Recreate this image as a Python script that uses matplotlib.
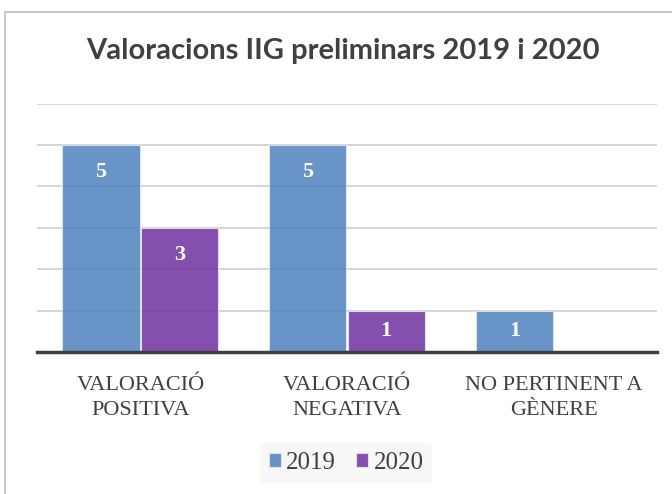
import numpy as np
import matplotlib.pyplot as plt
from matplotlib.patches import Rectangle

categories = ['VALORACIÓ\nPOSITIVA', 'VALORACIÓ\nNEGATIVA', 'NO PERTINENT A\nGÈNERE']
series_names = ['2019', '2020']
vals_2019 = [5, 5, 1]
vals_2020 = [3, 1, 0]

colors = ['#4F81BD', '#7030A0']

fig = plt.figure(figsize=(6.72, 4.94), dpi=100)
# chart border (left / top visible, right / bottom cut off)
fig.patches.append(Rectangle((5 / 672, -0.1), 1.2, 1 - 12 / 494 + 0.1, transform=fig.transFigure,
                             fill=False, edgecolor='#bfbfbf', linewidth=1.2))

ax = fig.add_axes([37 / 672, 1 - 352 / 494, 620 / 672, (352 - 103.6) / 494])
x = np.arange(len(categories))
w = 0.375
off = 0.19
for vals, name, c, dx in [(vals_2019, series_names[0], colors[0], -off), (vals_2020, series_names[1], colors[1], off)]:
    bars = ax.bar(x + dx, vals, w, color=c, alpha=0.85, edgecolor='#e8e8f0', linewidth=0.8, label=name, zorder=3)
    for xi, v in zip(x + dx, vals):
        if v > 0:
            ax.text(xi, max(v - 0.65, v / 2), str(v), ha='center', va='center', color='white',
                    fontsize=16, fontweight='bold', family='Liberation Serif', zorder=4)

ax.set_xlim(-0.5, 2.5)
ax.set_ylim(0, 6)
ax.set_yticks(range(1, 7))
ax.yaxis.grid(True, color='#d0d0d0', linewidth=1.2, zorder=1)
ax.tick_params(axis='y', left=False, labelleft=False)
ax.set_xticks(x)
ax.set_xticklabels(categories, family='Liberation Serif', fontsize=16, color='#404040', linespacing=1.45)
ax.tick_params(axis='x', length=0, pad=17)
for s in ['left', 'right', 'top']:
    ax.spines[s].set_visible(False)
ax.spines['bottom'].set_color('#404040')
ax.spines['bottom'].set_linewidth(2.5)
ax.spines['bottom'].set_zorder(5)

fig.text(0.51, 1 - 51 / 494, 'Valoracions IIG preliminars 2019 i 2020', ha='center', va='center',
         fontsize=21, fontweight='bold', family='Lato', color='#404040')

leg = fig.legend(loc='center', bbox_to_anchor=(346 / 672, 1 - 463 / 494), ncol=2, frameon=True,
                 prop={'family': 'Liberation Serif', 'size': 18}, handlelength=0.5, handleheight=0.5,
                 handletextpad=0.2, columnspacing=0.8, borderpad=0.35)
leg.get_frame().set_facecolor('#f5f5f5')
leg.get_frame().set_edgecolor('none')
for t in leg.get_texts():
    t.set_color('#404040')

fig.savefig('out.png', dpi=100)
